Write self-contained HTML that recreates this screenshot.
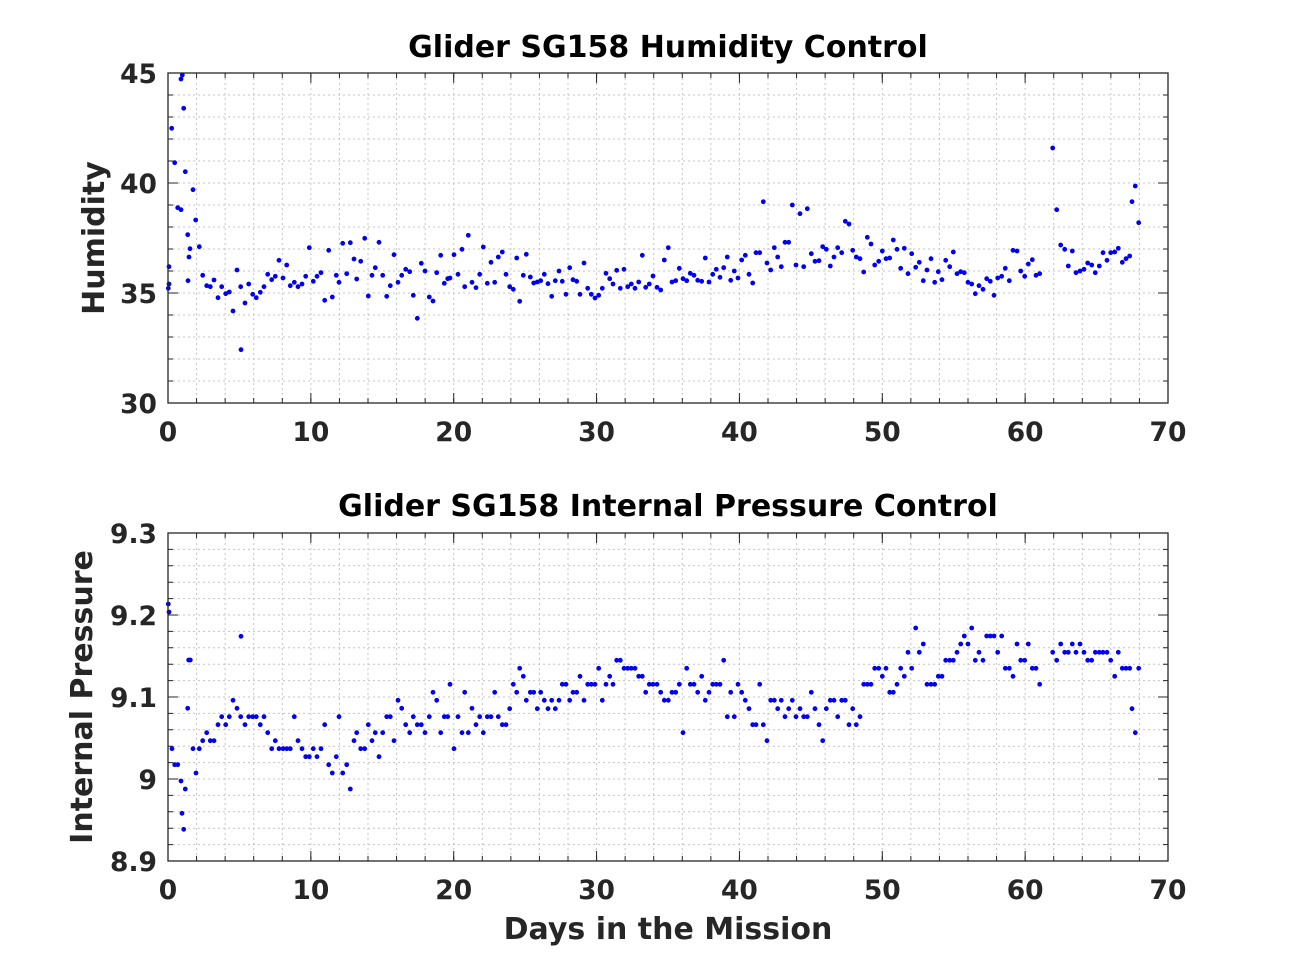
<!DOCTYPE html>
<html><head><meta charset="utf-8"><style>
html,body{margin:0;padding:0;background:#fff;}
svg{display:block;}
.t{font-family:"DejaVu Sans","Liberation Sans",sans-serif;font-weight:bold;}
</style></head><body>
<svg width="1291" height="968" viewBox="0 0 1291 968" xmlns="http://www.w3.org/2000/svg">
<rect width="1291" height="968" fill="#fff"/>
<rect x="168" y="73" width="1000" height="330" fill="#fff"/>
<rect x="168" y="533" width="1000" height="328" fill="#fff"/>
<g stroke="#c4c4c4" stroke-width="1" stroke-dasharray="2,3" fill="none">
<path d="M196.57 73V403M225.14 73V403M253.71 73V403M282.29 73V403M310.86 73V403M339.43 73V403M368 73V403M396.57 73V403M425.14 73V403M453.71 73V403M482.29 73V403M510.86 73V403M539.43 73V403M568 73V403M596.57 73V403M625.14 73V403M653.71 73V403M682.29 73V403M710.86 73V403M739.43 73V403M768 73V403M796.57 73V403M825.14 73V403M853.71 73V403M882.29 73V403M910.86 73V403M939.43 73V403M968 73V403M996.57 73V403M1025.14 73V403M1053.71 73V403M1082.29 73V403M1110.86 73V403M1139.43 73V403"/>
<path d="M168 95H1168M168 117H1168M168 139H1168M168 161H1168M168 183H1168M168 205H1168M168 227H1168M168 249H1168M168 271H1168M168 293H1168M168 315H1168M168 337H1168M168 359H1168M168 381H1168"/>
<path d="M196.57 533V861M225.14 533V861M253.71 533V861M282.29 533V861M310.86 533V861M339.43 533V861M368 533V861M396.57 533V861M425.14 533V861M453.71 533V861M482.29 533V861M510.86 533V861M539.43 533V861M568 533V861M596.57 533V861M625.14 533V861M653.71 533V861M682.29 533V861M710.86 533V861M739.43 533V861M768 533V861M796.57 533V861M825.14 533V861M853.71 533V861M882.29 533V861M910.86 533V861M939.43 533V861M968 533V861M996.57 533V861M1025.14 533V861M1053.71 533V861M1082.29 533V861M1110.86 533V861M1139.43 533V861"/>
<path d="M168 549.4H1168M168 565.8H1168M168 582.2H1168M168 598.6H1168M168 615H1168M168 631.4H1168M168 647.8H1168M168 664.2H1168M168 680.6H1168M168 697H1168M168 713.4H1168M168 729.8H1168M168 746.2H1168M168 762.6H1168M168 779H1168M168 795.4H1168M168 811.8H1168M168 828.2H1168M168 844.6H1168"/>
</g>
<!-- ticks -->
<g stroke="#262626" fill="none" stroke-dashoffset="0.5">
<line x1="168" y1="400.5" x2="1168" y2="400.5" stroke-width="5" stroke-dasharray="1 27.5714"/>
<line x1="168" y1="398" x2="1168" y2="398" stroke-width="10" stroke-dasharray="1 141.857"/>
<line x1="168" y1="75.5" x2="1168" y2="75.5" stroke-width="5" stroke-dasharray="1 27.5714"/>
<line x1="168" y1="78" x2="1168" y2="78" stroke-width="10" stroke-dasharray="1 141.857"/>
<line x1="170.5" y1="73" x2="170.5" y2="403" stroke-width="5" stroke-dasharray="1 21"/>
<line x1="173" y1="73" x2="173" y2="403" stroke-width="10" stroke-dasharray="1 109"/>
<line x1="1165.5" y1="73" x2="1165.5" y2="403" stroke-width="5" stroke-dasharray="1 21"/>
<line x1="1163" y1="73" x2="1163" y2="403" stroke-width="10" stroke-dasharray="1 109"/>
<line x1="168" y1="858.5" x2="1168" y2="858.5" stroke-width="5" stroke-dasharray="1 27.5714"/>
<line x1="168" y1="856" x2="1168" y2="856" stroke-width="10" stroke-dasharray="1 141.857"/>
<line x1="168" y1="535.5" x2="1168" y2="535.5" stroke-width="5" stroke-dasharray="1 27.5714"/>
<line x1="168" y1="538" x2="1168" y2="538" stroke-width="10" stroke-dasharray="1 141.857"/>
<line x1="170.5" y1="533" x2="170.5" y2="861" stroke-width="5" stroke-dasharray="1 15.4"/>
<line x1="173" y1="533" x2="173" y2="861" stroke-width="10" stroke-dasharray="1 81"/>
<line x1="1165.5" y1="533" x2="1165.5" y2="861" stroke-width="5" stroke-dasharray="1 15.4"/>
<line x1="1163" y1="533" x2="1163" y2="861" stroke-width="10" stroke-dasharray="1 81"/>
</g>
<!-- data -->
<g fill="none" stroke="#0000f5" stroke-width="4.8" stroke-linecap="round">
<path d="M168.3 288.3h0M169 284h0M169 266.7h0M171.7 128.3h0M174.7 162.7h0M177.7 207.7h0M181 209.7h0M181 79h0M182.3 75h0M183.7 108.3h0M185.3 171.7h0M187.7 234.7h0M188 280.7h0M189 257h0M190 248.7h0M193 189.7h0M195.7 220h0M199.3 246.7h0M202.7 275.3h0M206.7 285.7h0M210.3 286.7h0M214 280h0M218 297.7h0M221.7 286.7h0M225.7 293.7h0M229.3 292h0M233 311h0M237 270h0M240.7 286.7h0M241 349.7h0M245 303h0M248.7 284h0M252.7 294.3h0M256.3 297.7h0M260.3 292.3h0M264 286.7h0M267.7 274.3h0M271.7 279.7h0M275.3 276.3h0M279 260.3h0M283 278h0M286.7 265h0M290.3 285.7h0M294.3 282.3h0M298 286.7h0M302 284h0M305.7 276.3h0M309.3 247.7h0M313.3 281.3h0M317 276.3h0M321 272.7h0M324.7 300.3h0M328.7 250.3h0M332.3 297h0M336.3 275.3h0M339 282.3h0M342.7 243.3h0M346.7 273.7h0M350.3 242.7h0M354 259h0M356.7 279h0M360.7 261.3h0M364.7 238.3h0M368.3 296h0M372 275.3h0M375.3 267.7h0M379 242.3h0M382.7 275.3h0M386.7 296.3h0M390.3 285.7h0M394 254.7h0M398 282.3h0M401.7 275.3h0M405.7 269.3h0M409.7 271.7h0M413.3 295.3h0M417.3 318.3h0M421.3 263.3h0M425 271h0M429.3 297h0M433 301h0M436.7 272.7h0M440.7 255.3h0M444.3 283.3h0M447.7 278.7h0M450 278h0M454 254.7h0M458 274.3h0M462 249.3h0M464.7 286.7h0M468.3 235.3h0M472 282.3h0M476 287.7h0M479.7 274.3h0M483.3 247h0M487.3 283.3h0M491 262.3h0M494.7 282.3h0M498.3 257h0M502.3 252h0M506 274.3h0M509.7 286.7h0M513.3 289.3h0M516.7 258h0M519.7 301.3h0M523.3 275.3h0M526.3 254.3h0M530.3 277h0M533.7 283h0M537.3 282h0M540.7 280.7h0M544.3 274.3h0M548 283.7h0M551.7 296.3h0M555.3 280.7h0M559 271h0M562.3 281.3h0M566 294.3h0M569.7 267.7h0M573 279.7h0M576.7 281.3h0M580 294.3h0M584 263h0M587.7 288.3h0M591.3 294.3h0M595 298h0M598.7 295.3h0M602.3 288.3h0M606 273.3h0M609.7 278.7h0M613 284h0M616.7 270.3h0M620.3 288.3h0M624 269.3h0M627.7 286.7h0M631.3 284h0M635 288.3h0M638.7 282h0M642.3 255.3h0M645.7 287.3h0M649.3 284h0M653 276h0M657 287.3h0M660.7 290h0M664.3 260h0M668.3 247.7h0M672 282h0M675.7 280.7h0M679.3 268.3h0M683 278.7h0M686.7 280.7h0M690.3 273.3h0M694 275.3h0M697.7 280.3h0M701.7 281.3h0M705.3 258h0M709 282h0M712.7 274.3h0M716.3 269.3h0M720 277.3h0M723.7 267.7h0M727.3 257h0M730.7 280.3h0M734.3 271h0M738 278h0M741.7 260h0M745.3 255.3h0M749 274.3h0M752.7 283h0M756 252.7h0M759.7 252.7h0M763.3 201.7h0M767 263h0M770.7 270h0M774.3 247.7h0M777.7 257h0M781.3 266.7h0M785 242.3h0M788.7 242.3h0M792.3 205h0M796 265h0M800 213.7h0M803.7 266.7h0M807.3 208.7h0M811.3 253.7h0M815 261.3h0M819 260.7h0M822.7 246.7h0M826.3 249.3h0M830.3 266h0M834 257h0M837.7 247.7h0M841.7 252.7h0M845.3 221.3h0M849 224h0M852.7 250.3h0M856.3 257h0M860 258.7h0M863.7 272h0M867.3 237.3h0M871 244h0M874.7 265h0M878.7 261.3h0M882.3 251h0M886 258.7h0M889.7 258h0M893.3 240h0M897 249.3h0M900.7 268.3h0M904.3 248.3h0M908 273.7h0M911.7 253.7h0M915.7 267.3h0M919.3 262.3h0M923.3 280.7h0M927 270h0M931 258.7h0M934.7 282.3h0M938.3 271.7h0M942 279.7h0M945.7 260.3h0M949.7 266.7h0M953.3 252h0M957 273.7h0M960.7 271.7h0M964.3 272.7h0M968 282.3h0M971.7 284h0M975.3 293.7h0M979 285.7h0M983 289.3h0M986.7 278.7h0M990.3 281.3h0M994 295.3h0M997.7 278h0M1001.7 276.3h0M1005.3 268.3h0M1009.3 280.7h0M1013 250.3h0M1017 251h0M1020.7 271h0M1024.7 276.3h0M1028.3 264h0M1032.3 259.7h0M1036 275.3h0M1039.7 273.7h0M1052.7 148h0M1056.7 209.7h0M1060.7 245h0M1064.7 249.3h0M1068.3 266h0M1072.3 251h0M1076 272.7h0M1080 271h0M1084 269.3h0M1087.7 263h0M1091.7 265h0M1095.3 272.7h0M1099.3 266h0M1103 252.7h0M1107 260.3h0M1110.7 252.7h0M1114.7 252h0M1118.3 248.3h0M1122.3 262.3h0M1126 258.7h0M1129.7 256h0M1132 201.7h0M1135.3 186h0M1138.7 222.7h0"/>
<path d="M168.3 604h0M169 612h0M172 748.7h0M174.7 764.7h0M177.7 764.7h0M181 781h0M182 813.3h0M183.7 829.3h0M185.3 789h0M187.7 708.3h0M188.7 660h0M190.3 660h0M193 748.7h0M196 773h0M199.3 748.7h0M202.7 740.7h0M206.7 732.7h0M210.3 740.7h0M214 740.7h0M218 724.7h0M221.7 716.7h0M225.7 724.7h0M229.3 716.7h0M233 700.3h0M237 708.3h0M240.7 716.7h0M241 636.3h0M245 724.7h0M248.7 716.7h0M252.7 716.7h0M256.3 716.7h0M260.3 724.7h0M264 716.7h0M267.7 732.7h0M271.7 748.7h0M275.3 740.7h0M279 748.7h0M283 748.7h0M286.7 748.7h0M290.3 748.7h0M294.3 716.7h0M298 740.7h0M302 748.7h0M305.7 756.7h0M309.3 756.7h0M313.3 748.7h0M317 756.7h0M321 748.7h0M324.7 724.7h0M328.7 764.7h0M332.3 773h0M336.3 756.7h0M339 716.7h0M342.7 773h0M346.7 764.7h0M350.3 789h0M354 740.7h0M356.7 732.7h0M360.7 748.7h0M364.7 748.7h0M368.3 724.7h0M372 740.7h0M375.3 732.7h0M379 756.7h0M382.7 732.7h0M386.7 716.7h0M390.3 716.7h0M394 740.7h0M398 700.3h0M401.7 708.3h0M405.7 724.7h0M409.7 732.7h0M413.3 716.7h0M417.3 724.7h0M421.3 724.7h0M425 732.7h0M429.3 716.7h0M433 692.3h0M436.7 700.3h0M440.7 732.7h0M444.3 716.7h0M447.7 716.7h0M450 684.3h0M454 748.7h0M458 716.7h0M462 732.7h0M464.7 692.3h0M468.3 732.7h0M472 708.3h0M476 724.7h0M479.7 716.7h0M483.3 732.7h0M487.3 716.7h0M491 716.7h0M494.7 692.3h0M498.3 716.7h0M502.3 724.7h0M506 724.7h0M509.7 708.7h0M513.3 684.3h0M516.7 692.3h0M519.7 668.3h0M523.3 676.3h0M526.3 700.3h0M530.3 692.3h0M533.7 692.3h0M537.3 708.7h0M540.7 692.3h0M544.3 700.3h0M548 708.7h0M551.7 700.3h0M555.3 708.7h0M559 700.3h0M562.3 684.3h0M566 684.3h0M569.7 700.3h0M573 692.3h0M576.7 692.3h0M580 676.3h0M584 700.3h0M587.7 684.3h0M591.3 684.3h0M595 684.3h0M598.7 668.3h0M602.3 700.3h0M606 684.3h0M609.7 676.3h0M613 684.3h0M616.7 660.3h0M620.3 660.3h0M624 668.3h0M627.7 668.3h0M631.3 668.3h0M635 668.3h0M638.7 676.3h0M642.3 676.3h0M645.7 692.3h0M649.3 684.3h0M653 684.3h0M657 684.3h0M660.7 692.3h0M664.3 700.3h0M668.3 700.3h0M672 692.3h0M675.7 692.3h0M679.3 684.3h0M683 732.7h0M686.7 668.3h0M690.3 684.3h0M694 684.3h0M697.7 692.3h0M701.7 676.3h0M705.3 700.3h0M709 692.3h0M712.7 684.3h0M716.3 684.3h0M720 684.3h0M723.7 660.3h0M727.3 716.7h0M730.7 692.3h0M734.3 716.7h0M738 684.3h0M741.7 692.3h0M745.3 700.3h0M749 708.7h0M752.7 724.7h0M756 724.7h0M759.7 684.3h0M763.3 724.7h0M767 740.7h0M770.7 700.3h0M774.3 700.3h0M777.7 708.7h0M781.3 700.3h0M785 716.7h0M788.7 708.7h0M792.3 700.3h0M796 716.7h0M800 708.7h0M803.7 716.7h0M807.3 716.7h0M811.3 692.3h0M815 708.7h0M819 724.7h0M822.7 740.7h0M826.3 708.7h0M830.3 700.3h0M834 700.3h0M837.7 716.7h0M841.7 700.3h0M845.3 700.3h0M849 724.7h0M852.7 708.7h0M856.3 724.7h0M860 716.7h0M863.7 684.3h0M867.3 684.3h0M871 684.3h0M874.7 668.3h0M878.7 668.3h0M882.3 676.3h0M886 668.3h0M889.7 692.3h0M893.3 692.3h0M897 684.3h0M900.7 668.3h0M904.3 676.3h0M908 652.3h0M911.7 668.3h0M915.7 628h0M919.3 652.3h0M923.3 644h0M927 684.3h0M931 684.3h0M934.7 684.3h0M938.3 676.3h0M942 676.3h0M945.7 660.3h0M949.7 660.3h0M953.3 660.3h0M957 652.3h0M960.7 644h0M964.3 636h0M968 644h0M971.7 628h0M975.3 660.3h0M979 652.3h0M983 660.3h0M986.7 636h0M990.3 636h0M994 636h0M997.7 652.3h0M1001.7 636h0M1005.3 668.3h0M1009.3 668.3h0M1013 676.3h0M1017 644h0M1020.7 660.3h0M1024.7 660.3h0M1028.3 644h0M1032.3 668.3h0M1036 668.3h0M1039.7 684.3h0M1052.7 652.3h0M1056.7 660.3h0M1060.7 644h0M1064.7 652.3h0M1068.3 652.3h0M1072.3 644h0M1076 652.3h0M1080 644h0M1084 652.3h0M1087.7 660.3h0M1091.7 660.3h0M1095.3 652.3h0M1099.3 652.3h0M1103 652.3h0M1107 652.3h0M1110.7 660.3h0M1114.7 676.3h0M1118.3 652.3h0M1122.3 668.3h0M1126 668.3h0M1129.7 668.3h0M1132 708.7h0M1135.3 732.7h0M1138.7 668.3h0"/>
</g>
<!-- frames -->
<rect x="168" y="73" width="1000" height="330" fill="none" stroke="#262626" stroke-width="1.3"/>
<rect x="168" y="533" width="1000" height="328" fill="none" stroke="#262626" stroke-width="1.3"/>
<!-- titles -->
<text class="t" x="668" y="57" font-size="30" text-anchor="middle" fill="#000">Glider SG158 Humidity Control</text>
<text class="t" x="668" y="516" font-size="30" text-anchor="middle" fill="#000">Glider SG158 Internal Pressure Control</text>
<!-- y tick labels -->
<g class="t" font-size="26.5" fill="#262626" text-anchor="end">
<text x="157" y="83">45</text>
<text x="157" y="193">40</text>
<text x="157" y="303">35</text>
<text x="157" y="413">30</text>
<text x="157" y="543">9.3</text>
<text x="157" y="625">9.2</text>
<text x="157" y="707">9.1</text>
<text x="157" y="789">9</text>
<text x="157" y="871">8.9</text>
</g>
<!-- x tick labels -->
<g class="t" font-size="26.5" fill="#262626" text-anchor="middle">
<text x="168" y="441">0</text>
<text x="310.86" y="441">10</text>
<text x="453.71" y="441">20</text>
<text x="596.57" y="441">30</text>
<text x="739.43" y="441">40</text>
<text x="882.29" y="441">50</text>
<text x="1025.14" y="441">60</text>
<text x="1168" y="441">70</text>
<text x="168" y="899">0</text>
<text x="310.86" y="899">10</text>
<text x="453.71" y="899">20</text>
<text x="596.57" y="899">30</text>
<text x="739.43" y="899">40</text>
<text x="882.29" y="899">50</text>
<text x="1025.14" y="899">60</text>
<text x="1168" y="899">70</text>
</g>
<!-- axis labels -->
<text class="t" x="668" y="939" font-size="30" text-anchor="middle" fill="#262626">Days in the Mission</text>
<text class="t" transform="translate(104,238) rotate(-90)" font-size="30" text-anchor="middle" fill="#262626">Humidity</text>
<text class="t" transform="translate(92,697) rotate(-90)" font-size="30" text-anchor="middle" fill="#262626">Internal Pressure</text>
</svg>
</body></html>
